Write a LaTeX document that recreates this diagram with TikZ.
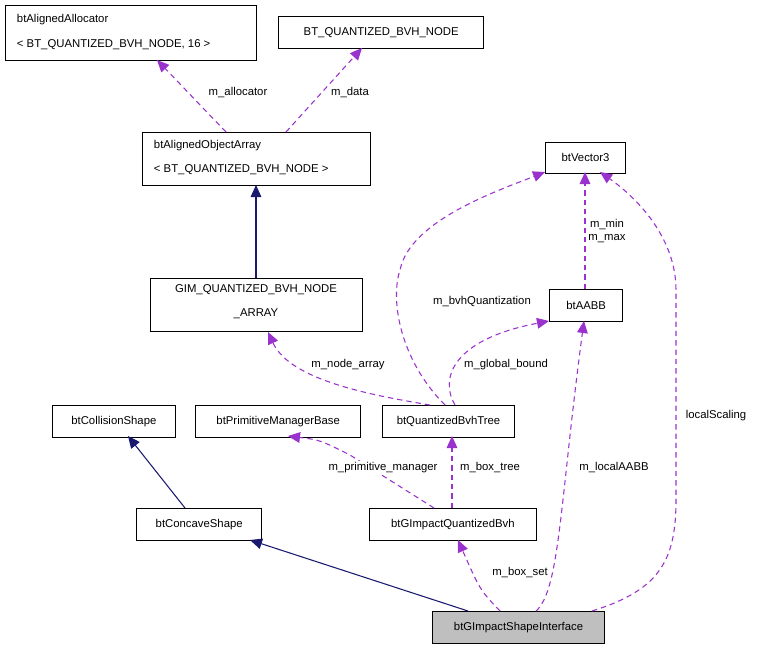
\documentclass[tikz,border=0pt]{standalone}
\usepackage{fontspec}
\setmainfont{Liberation Sans}
\usetikzlibrary{arrows.meta}
\begin{document}
\begin{tikzpicture}[x=0.75pt,y=-0.75pt,font=\fontsize{8.5}{10}\selectfont,line width=0.8pt,
  dep/.style={draw={rgb,255:red,154;green,50;blue,205},dash pattern=on 4pt off 3pt,-{Triangle[length=9pt,width=8pt]}},
  inhf/.style={draw={rgb,255:red,25;green,25;blue,112},-{Triangle[length=9pt,width=8pt,fill={rgb,255:red,25;green,25;blue,112}]}},
  lab/.style={fill=white,inner sep=1pt}]
\useasboundingbox (0,0) rectangle (757,651);
\node[draw,minimum width=188pt,minimum height=41pt,anchor=north west] (alloc) at (5,5) {};
\node[anchor=west] at (12,20) {btAlignedAllocator};
\node[anchor=west] at (12,45) {< BT\_QUANTIZED\_BVH\_NODE, 16 >};
\node[draw,minimum width=154pt,minimum height=24pt,anchor=north west] (btn) at (278,16) {BT\_QUANTIZED\_BVH\_NODE};
\node[draw,minimum width=171pt,minimum height=40pt,anchor=north west] (aoa) at (142,132) {};
\node[anchor=west] at (149,146) {btAlignedObjectArray};
\node[anchor=west] at (149,170) {< BT\_QUANTIZED\_BVH\_NODE >};
\node[draw,minimum width=159pt,minimum height=40pt,anchor=north west] (gim) at (150,278) {};
\node at (256,290) {GIM\_QUANTIZED\_BVH\_NODE};
\node at (256,314) {\_ARRAY};
\node[draw,minimum width=60pt,minimum height=23pt,anchor=north west] (vec) at (545,142) {btVector3};
\node[draw,minimum width=55pt,minimum height=24pt,anchor=north west] (aabb) at (549,289) {btAABB};
\node[draw,minimum width=92pt,minimum height=24pt,anchor=north west] (col) at (52,405) {btCollisionShape};
\node[draw,minimum width=124pt,minimum height=24pt,anchor=north west] (pmb) at (195,405) {btPrimitiveManagerBase};
\node[draw,minimum width=99pt,minimum height=24pt,anchor=north west] (qbt) at (382,405) {btQuantizedBvhTree};
\node[draw,minimum width=94pt,minimum height=24pt,anchor=north west] (con) at (136,508) {btConcaveShape};
\node[draw,minimum width=125pt,minimum height=24pt,anchor=north west] (gqb) at (369,508) {btGImpactQuantizedBvh};
\node[draw,fill={rgb,255:red,191;green,191;blue,191},minimum width=129pt,minimum height=24pt,anchor=north west] (gsi) at (432,611) {btGImpactShapeInterface};
% edges
\draw[dep] (226,132) -- (157,60);
\node[lab] at (238,93) {m\_allocator};
\draw[dep] (286,132) -- (362,48);
\node[lab] at (350,93) {m\_data};
\draw[inhf] (256,278) -- (256,185);
\draw[dep] (430,405) .. controls (370,395) and (290,380) .. (268,332);
\node[lab] at (348,365) {m\_node\_array};
\draw[dep] (445,405) .. controls (400,360) and (390,300) .. (400,270) .. controls (410,220) and (500,190) .. (545,172);
\node[lab] at (482,302) {m\_bvhQuantization};
\draw[dep] (455,405) .. controls (440,380) and (450,340) .. (549,321);
\node[lab] at (506,365) {m\_global\_bound};
\draw[dep] (585,289) -- (585,172);
\node[lab,align=center] at (607,231) {m\_min\\m\_max};
\draw[dep] (434,508) -- (350,455) .. controls (320,440) .. (288,436);
\node[lab] at (383,468) {m\_primitive\_manager};
\draw[dep] (452,508) -- (452,436);
\node[lab] at (490,468) {m\_box\_tree};
\draw[inhf] (185,508) -- (128,436);
\draw[inhf] (468,611) -- (250,540);
\draw[dep] (500,611) .. controls (480,590) .. (458,540);
\node[lab] at (520,573) {m\_box\_set};
\draw[dep] (536,611) .. controls (560,590) and (560,500) .. (584,321);
\node[lab] at (614,468) {m\_localAABB};
\draw[dep] (592,611) .. controls (660,590) and (676,560) .. (676,500) -- (676,290) .. controls (676,240) and (640,200) .. (600,172);
\node[lab] at (716,416) {localScaling};
\end{tikzpicture}
\end{document}
